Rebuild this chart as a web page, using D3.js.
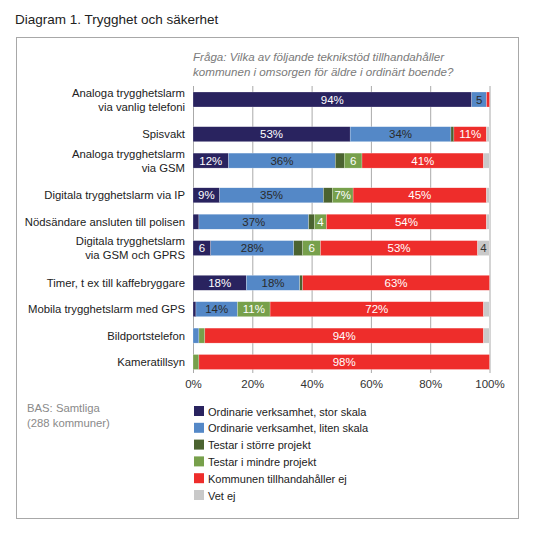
<!DOCTYPE html>
<html><head><meta charset="utf-8">
<script src="https://cdn.jsdelivr.net/npm/d3@7/dist/d3.min.js"></script>
<style>
body{margin:0;background:#fff;}
text{font-family:"Liberation Sans",Arial,Helvetica,sans-serif;}
</style></head>
<body><svg id="c" width="542" height="535"></svg>
<script>
const title = "Diagram 1. Trygghet och säkerhet";
const question = ["Fråga: Vilka av följande teknikstöd tillhandahåller", "kommunen i omsorgen för äldre i ordinärt boende?"];
const base = ["BAS: Samtliga", "(288 kommuner)"];
const categories = [
  "Analoga trygghetslarm\nvia vanlig telefoni",
  "Spisvakt",
  "Analoga trygghetslarm\nvia GSM",
  "Digitala trygghetslarm via IP",
  "Nödsändare ansluten till polisen",
  "Digitala trygghetslarm\nvia GSM och GPRS",
  "Timer, t ex till kaffebryggare",
  "Mobila trygghetslarm med GPS",
  "Bildportstelefon",
  "Kameratillsyn"
];
const seriesNames = [
  "Ordinarie verksamhet, stor skala",
  "Ordinarie verksamhet, liten skala",
  "Testar i större projekt",
  "Testar i mindre projekt",
  "Kommunen tillhandahåller ej",
  "Vet ej"
];
const storSkala         = [94, 53, 12,  9,  2,  6, 18,  1,  0,  0];
const litenSkala        = [ 5, 34, 36, 35, 37, 28, 18, 14,  2,  0];
const storreProjekt     = [ 0,  1,  3,  3,  2,  3,  1,  0,  0,  0];
const mindreProjekt     = [ 0,  0,  6,  7,  4,  6,  0, 11,  2,  2];
const tillhandahallerEj = [ 1, 11, 41, 45, 54, 53, 63, 72, 94, 98];
const vetEj             = [ 0,  1,  2,  1,  1,  4,  0,  2,  2,  0];
const tickValues = [0, 20, 40, 60, 80, 100];

const colors = ["#29235f", "#5488c7", "#4b6330", "#77a04b", "#ee2d2b", "#c9c9c9"];
const labelColors = ["#fff", "#2a2a2a", "#fff", "#fff", "#fff", "#333"];

const seriesValues = [storSkala, litenSkala, storreProjekt, mindreProjekt, tillhandahallerEj, vetEj];
const keys = seriesNames;
const table = categories.map((c, i) => {
  const o = {cat: c};
  keys.forEach((k, j) => o[k] = seriesValues[j][i]);
  return o;
});
const stacked = d3.stack().keys(keys)(table);

const svg = d3.select("#c");
const font = '"Liberation Sans",Arial,Helvetica,sans-serif';

// title
svg.append("text").attr("x", 15).attr("y", 24).attr("font-size", 13.5).attr("fill", "#222").text(title);
// frame
svg.append("rect").attr("x", 16.5).attr("y", 37.5).attr("width", 502).attr("height", 481)
  .attr("fill", "none").attr("stroke", "#a8a8a8").attr("stroke-width", 1);

// question
svg.append("g").selectAll("text").data(question).join("text")
  .attr("x", 193).attr("y", (d, i) => 61 + i * 15)
  .attr("font-size", 11.6).attr("font-style", "italic").attr("fill", "#7a7a7a").text(d => d);

const x = d3.scaleLinear().domain([0, 100]).range([193, 489.5]);

// variable row spacing based on label line count
const extra = 0.314;
const unitPos = [];
let acc = 0;
categories.forEach((c, i) => {
  unitPos.push(acc);
  acc += 1 + (c.includes("\n") ? extra : 0);
});
const yLin = d3.scaleLinear().domain([0, unitPos[unitPos.length - 1]]).range([99.5, 362]);
const yPos = d3.scaleOrdinal().domain(categories).range(unitPos.map(u => yLin(u)));
const barH = 15;

// gridlines
const gTop = 86, gBot = 373;
svg.append("g").selectAll("line").data(tickValues).join("line")
  .attr("x1", d => x(d) + 0.5).attr("x2", d => x(d) + 0.5)
  .attr("y1", gTop).attr("y2", gBot)
  .attr("stroke", "#aaaaaa").attr("stroke-width", 1);

// x axis labels
const xAxis = d3.axisBottom(x).tickValues(tickValues).tickFormat(d => d + "%").tickSize(0).tickPadding(0);
const ax = svg.append("g").attr("transform", `translate(0,${gBot + 7})`).call(xAxis);
ax.select(".domain").remove();
ax.selectAll("text").attr("font-family", font).attr("font-size", 11.5).attr("fill", "#333");

// bars
const layers = svg.append("g").selectAll("g").data(stacked).join("g")
  .attr("fill", (d, i) => colors[i]);
layers.selectAll("rect").data(d => d).join("rect")
  .attr("x", d => x(d[0])).attr("width", d => x(d[1]) - x(d[0]))
  .attr("y", d => yPos(d.data.cat) - barH / 2).attr("height", barH)
  .attr("stroke", "#fff").attr("stroke-width", 0.4).attr("stroke-opacity", 0.6);

// segment labels
stacked.forEach((layer, si) => {
  svg.append("g").selectAll("text").data(layer.filter(d => d[1] - d[0] >= 4)).join("text")
    .attr("x", d => (x(d[0]) + x(d[1])) / 2)
    .attr("y", d => yPos(d.data.cat) + 4.2)
    .attr("text-anchor", "middle").attr("font-size", 11.5)
    .attr("fill", labelColors[si])
    .text(d => { const v = d[1] - d[0]; return v >= 7 ? v + "%" : v; });
});

// category labels
const cl = svg.append("g").selectAll("text").data(categories).join("text")
  .attr("text-anchor", "end").attr("font-size", 11.3).attr("fill", "#222")
  .attr("y", d => yPos(d));
cl.each(function(d) {
  const lines = d.split("\n");
  const t = d3.select(this);
  lines.forEach((ln, i) => {
    t.append("tspan").attr("x", 185)
      .attr("dy", i === 0 ? (4 - (lines.length - 1) * 7) : 14)
      .text(ln);
  });
});

// base
svg.append("g").selectAll("text").data(base).join("text")
  .attr("x", 27).attr("y", (d, i) => 412 + i * 15)
  .attr("font-size", 11.3).attr("fill", "#8a8a8a").text(d => d);

// legend
const lg = svg.append("g").selectAll("g").data(seriesNames).join("g")
  .attr("transform", (d, i) => `translate(194,${406 + i * 16.8})`);
lg.append("rect").attr("width", 10).attr("height", 10).attr("fill", (d, i) => colors[i]);
lg.append("text").attr("x", 14).attr("y", 9.5).attr("font-size", 11).attr("fill", "#222").text(d => d);
</script>
</body></html>
